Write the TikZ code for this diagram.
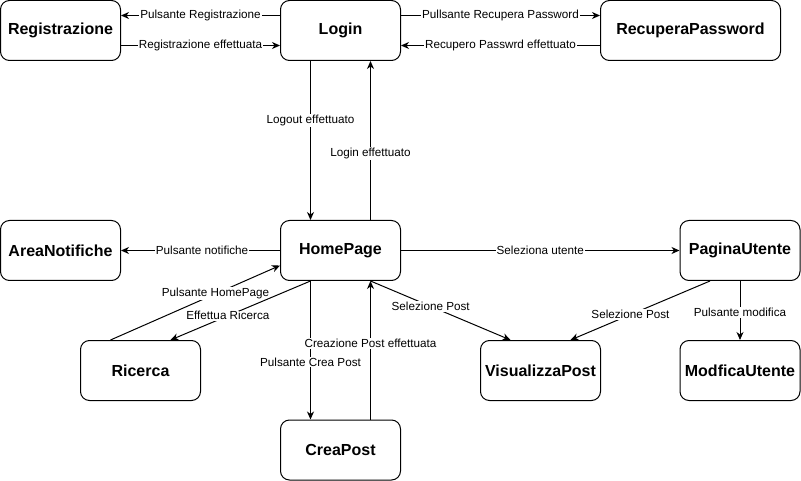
\documentclass[tikz,border=0pt]{standalone}
\usepackage{fontspec}
\setmainfont{Liberation Sans}
\usetikzlibrary{arrows.meta}
\begin{document}
\begin{tikzpicture}[x=1pt,y=-1pt,
 box/.style={draw, line width=1pt, rounded corners=9pt, minimum width=120pt, minimum height=60pt, inner sep=0pt, font=\fontsize{16}{19}\selectfont\bfseries},
 arr/.style={draw, line width=1pt, -{Stealth[length=8pt,width=7pt,inset=2.5pt]}},
 lbl/.style={fill=white, inner sep=1pt, font=\fontsize{11.7}{14}\selectfont}]
\useasboundingbox (0,0) rectangle (801,481);
% nodes
\node[box] (reg) at (60.5,30.5) {Registrazione};
\node[box] (login) at (340.5,30.5) {Login};
\node[box, minimum width=180pt] (rec) at (690.5,30.5) {RecuperaPassword};
\node[box] (notif) at (60.5,250.5) {AreaNotifiche};
\node[box] (home) at (340.5,250.5) {HomePage};
\node[box] (pag) at (740,250.5) {PaginaUtente};
\node[box] (ric) at (140.5,370.5) {Ricerca};
\node[box] (vis) at (540.5,370.5) {VisualizzaPost};
\node[box] (mod) at (740,370.5) {ModficaUtente};
\node[box] (crea) at (340.5,450) {CreaPost};
% top row
\draw[arr] ([yshift=15pt]login.west) -- node[lbl]{Pulsante Registrazione} ([yshift=15pt]reg.east);
\draw[arr] ([yshift=-15pt]reg.east) -- node[lbl]{Registrazione effettuata} ([yshift=-15pt]login.west);
\draw[arr] ([yshift=15pt]login.east) -- node[lbl]{Pullsante Recupera Password} ([yshift=15pt]rec.west);
\draw[arr] ([yshift=-15pt]rec.west) -- node[lbl]{Recupero Passwrd effettuato} ([yshift=-15pt]login.east);
% login <-> home
\draw[arr] ([xshift=-30pt]login.south) -- node[lbl,pos=0.375]{Logout effettuato} ([xshift=-30pt]home.north);
\draw[arr] ([xshift=30pt]home.north) -- node[lbl,pos=0.42]{Login effettuato} ([xshift=30pt]login.south);
% home row
\draw[arr] (home.west) -- node[lbl,pos=0.49]{Pulsante notifiche} (notif.east);
\draw[arr] (home.east) -- node[lbl]{Seleziona utente} (pag.west);
% ricerca
\draw[arr] ([xshift=-30pt]ric.north) -- node[lbl,pos=0.62]{Pulsante HomePage} ([yshift=-15pt]home.west);
\draw[arr] ([xshift=-30pt]home.south) -- node[lbl,pos=0.59]{Effettua Ricerca} ([xshift=30pt]ric.north);
% creapost
\draw[arr] ([xshift=-30pt]home.south) -- node[lbl,pos=0.586]{Pulsante Crea Post} ([xshift=-30pt]crea.north);
\draw[arr] ([xshift=30pt]crea.north) -- node[lbl,pos=0.55]{Creazione Post effettuata} ([xshift=30pt]home.south);
% visualizza
\draw[arr] ([xshift=30pt]home.south) -- node[lbl,pos=0.43]{Selezione Post} ([xshift=-30pt]vis.north);
\draw[arr] ([xshift=-30pt]pag.south) -- node[lbl,pos=0.57]{Selezione Post} ([xshift=30pt]vis.north);
\draw[arr] (pag.south) -- node[lbl,pos=0.53]{Pulsante modifica} (mod.north);
\end{tikzpicture}
\end{document}
